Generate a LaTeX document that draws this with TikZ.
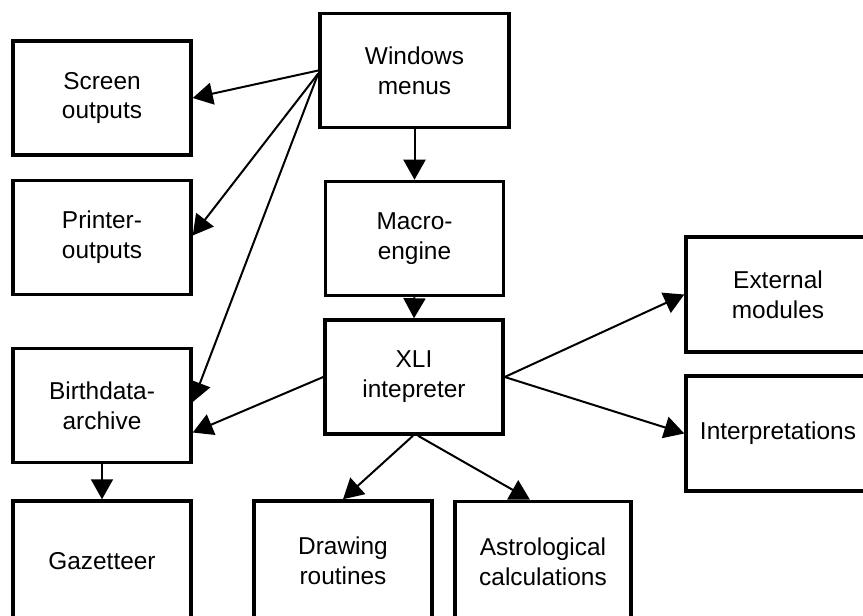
\documentclass[tikz,border=0pt]{standalone}
\usepackage{fontspec}
\setmainfont{Liberation Sans}
\usetikzlibrary{arrows.meta}
\tikzset{
  modbox/.style={draw, line width=3.5bp, minimum width=178bp, minimum height=114bp,
    inner sep=0pt, align=center, font=\fontsize{24.5}{30}\selectfont},
  flowarr/.style={-{Triangle[length=20bp,width=22bp]}, line width=2bp},
}
\begin{document}
\begin{tikzpicture}[x=1bp,y=-1bp]
    \useasboundingbox (0,0) rectangle (863,616);
    % top of the chain
    \node[modbox, minimum width=189bp] (win) at (414.5,70.5) {Windows\\menus};
    \node[modbox] (mac) at (414.5,238.5) {Macro-\\engine};
    \node[modbox] (xli) at (414,377) {XLI\\intepreter};
    % left column
    \node[modbox] (scr) at (102,98) {Screen\\outputs};
    \node[modbox] (prn) at (102,237.5) {Printer-\\outputs};
    \node[modbox] (bir) at (102,405.5) {Birthdata-\\archive};
    \node[modbox, minimum height=120bp] (gaz) at (102,561) {Gazetteer};
    % bottom row
    \node[modbox, minimum height=120bp] (drw) at (343,561) {Drawing\\routines};
    \node[modbox, minimum width=176bp, minimum height=120bp] (ast) at (543,561.5) {Astrological\\calculations};
    % right column, cut off by the page edge
    \node[modbox, minimum width=184bp, minimum height=115bp] (ext) at (778,294.5) {External\\modules};
    \node[modbox, minimum width=184bp, minimum height=115bp] (itp) at (778,433.5) {Interpretations};
    % from the menus
    \draw[flowarr] (win.west) -- (scr.east);
    \draw[flowarr] ([yshift=-3bp]win.west) -- ([yshift=2bp]prn.east);
    \draw[flowarr] ([yshift=-3bp]win.west) -- ([yshift=3.5bp]bir.east);
    \draw[flowarr] (win.south) -- (mac.north);
    \draw[flowarr] (mac.south) -- (xli.north);
    % from the interpreter
    \draw[flowarr] (xli.west) -- ([yshift=-27bp]bir.east);
    \draw[flowarr] ([xshift=-1bp]xli.south) -- (drw.north);
    \draw[flowarr] ([xshift=4bp]xli.south) -- ([xshift=-13bp]ast.north);
    \draw[flowarr] (xli.east) -- (ext.west);
    \draw[flowarr] (xli.east) -- (itp.west);
    \draw[flowarr] (bir.south) -- (gaz.north);
\end{tikzpicture}
\end{document}
